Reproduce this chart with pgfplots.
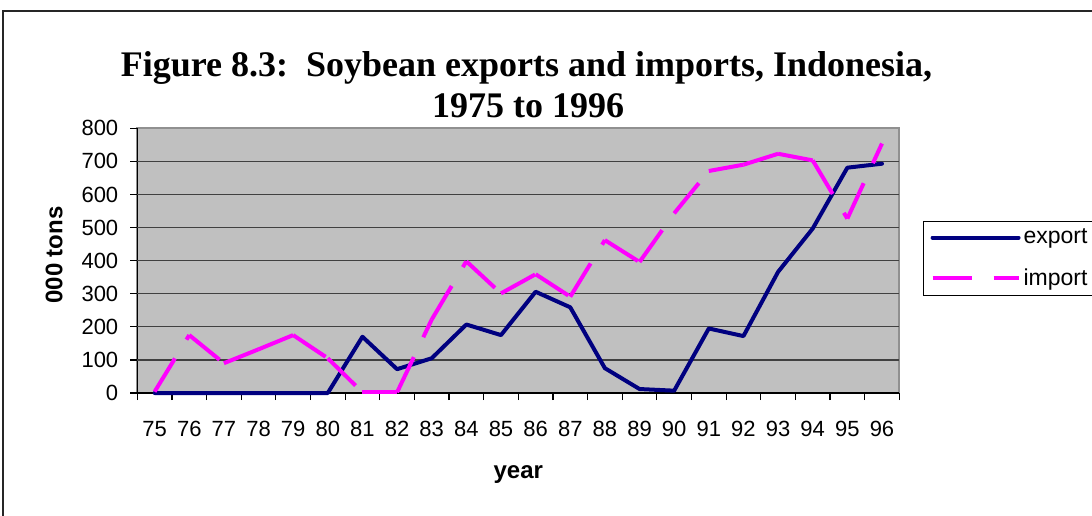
\documentclass[border=0pt]{standalone}
\usepackage{fontspec}
\setmainfont{Liberation Sans}
\newfontfamily\titlefont{Liberation Serif}
\usepackage{pgfplots}
\pgfplotsset{compat=1.18}
\usepackage{pgfplotstable}
\usetikzlibrary{decorations.pathreplacing}
\definecolor{expc}{HTML}{000080}
\definecolor{impc}{HTML}{FF00FF}
\definecolor{bgc}{HTML}{C0C0C0}
\definecolor{gridc}{HTML}{404040}
\definecolor{framec}{HTML}{909090}

\pgfplotstableread{
i exp imp
0 0 4
1 0 175
2 0 90
3 0 132
4 0 175
5 0 105
6 170 2
7 72 2
8 105 222
9 207 398
10 175 301
11 306 359
12 259 291
13 75 462
14 12 396
15 7 543
16 195 671
17 172 690
18 366 723
19 497 703
20 681 527
21 693 754
}\datatable

\begin{document}
\begin{tikzpicture}
\path[use as bounding box] (0pt,0pt) rectangle (546pt,257.5pt);
\draw[black!85, line width=0.6pt] (1.5pt,-2pt) -- (1.5pt,252pt) -- (548pt,252pt);
\begin{axis}[
  at={(68.65pt,61pt)}, anchor=south west,
  scale only axis, width=381pt, height=132.35pt,
  xmin=-0.5, xmax=21.5, ymin=0, ymax=800,
  clip=false,
  axis lines*=left,
  axis line style={black, line width=0.8pt},
  axis background/.style={fill=bgc, draw=framec, line width=1pt},
  tick align=outside,
  major tick length=3.5pt,
  tick style={black, line width=0.6pt},
  /pgf/number format/assume math mode=true,
  ytick={0,100,...,800},
  yticklabel style={font=\fontsize{11}{13}\selectfont, xshift=-2.5pt},
  extra y ticks={100,200,...,700},
  extra y tick labels={},
  extra y tick style={grid=major, major grid style={gridc, line width=0.6pt}},
  xtick={-0.5,0.5,...,21.5},
  xticklabels={},
  extra x ticks={0,1,...,21},
  extra x tick labels={75,76,77,78,79,80,81,82,83,84,85,86,87,88,89,90,91,92,93,94,95,96},
  extra x tick style={major tick length=0pt, xticklabel style={font=\fontsize{11}{13}\selectfont, yshift=-10.7pt}},
  legend style={at={(1.0311,0.6498)}, anchor=north west, draw=black, line width=0.6pt, fill=white,
    font=\fontsize{11.5}{13}\selectfont, inner xsep=3.5pt, inner ysep=3.5pt, row sep=11pt, column sep=1.5pt,
    nodes={inner sep=0pt}},
  legend cell align=left,
  legend image code/.code={\draw[#1] (0pt,0pt) -- (43pt,0pt);},
]
\addplot[expc, line width=2pt, line join=round, line cap=round] table[x=i,y=exp]{\datatable};
\addlegendentry{export}
\addplot[impc, forget plot, decorate, decoration={show path construction, lineto code={\draw[draw=impc, line width=2pt, line cap=butt, dash pattern=on 19.5pt off 11pt] (\tikzinputsegmentfirst) -- (\tikzinputsegmentlast);}}] table[x=i,y=imp]{\datatable};
\addlegendimage{impc, line width=2pt, line cap=butt, dash pattern=on 19.5pt off 11pt}
\addlegendentry{import}
\end{axis}
\node[font=\titlefont\bfseries\fontsize{18}{22}\selectfont, anchor=base] at (263.25pt,219.15pt) {Figure 8.3:\ \ Soybean exports and imports, Indonesia,};
\node[font=\titlefont\bfseries\fontsize{18}{22}\selectfont, anchor=base] at (264pt,198.75pt) {1975 to 1996};
\node[font=\bfseries\fontsize{12}{14}\selectfont, rotate=90, anchor=center] at (27pt,130pt) {000 tons};
\node[font=\bfseries\fontsize{12}{14}\selectfont, anchor=base] at (259.15pt,18.5pt) {year};
\end{tikzpicture}
\end{document}
